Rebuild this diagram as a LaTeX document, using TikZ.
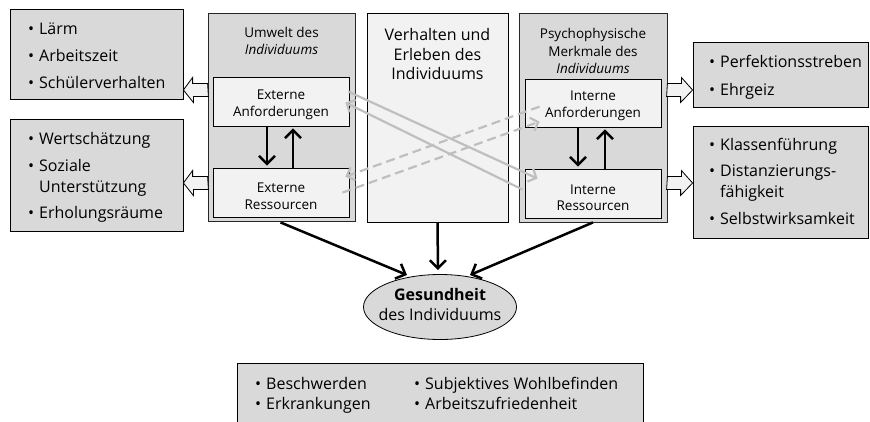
\documentclass[tikz,border=0pt]{standalone}
\usepackage{fontspec}
\setmainfont{Open Sans}
\usetikzlibrary{arrows.meta,calc,shapes.geometric}
\definecolor{boxgray}{HTML}{D9D9D9}
\definecolor{palegray}{HTML}{F2F2F2}
\definecolor{arrgray}{HTML}{BFBFBF}
\newcommand\bitem[4]{\node[sidetxt] (#1) at (#2,#3) {\llap{•\hspace{5pt}}#4};}
\newcommand\citem[4]{\node[sidetxt] (#1) at (#2,#3) {#4};}
\begin{document}
\begin{tikzpicture}[x=1pt,y=-1pt,
  frame/.style={draw=black!85, line width=0.8pt, fill=boxgray, inner sep=0pt},
  sidebox/.style={draw=black, line width=0.8pt, fill=boxgray, inner sep=0pt},
  inbox/.style={draw=black, line width=0.8pt, fill=palegray, inner sep=0pt},
  sidetxt/.style={font=\fontsize{16}{19}\selectfont, inner sep=0pt, anchor=base west},
  intxt/.style={font=\fontsize{13.5}{16.5}\selectfont, align=center, inner sep=0pt},
  hdrtxt/.style={font=\fontsize{13.5}{17}\selectfont, align=center, inner sep=0pt},
  blk/.style={draw=black, line width=0.8pt, fill=palegray, line join=miter},
  barr/.style={draw=black, line width=2.5pt, -{Straight Barb[length=8pt,width=16pt]}},
  garr/.style={draw=arrgray, line width=2.2pt, -{Straight Barb[length=6.5pt,width=14pt]}},
  gdash/.style={garr, dash pattern=on 9pt off 5pt}
]
\useasboundingbox (0,0) rectangle (870,421);

% side boxes
\node[sidebox, minimum width=173pt, minimum height=90pt] (L1) at (96.5,54) {};
\node[sidebox, minimum width=173pt, minimum height=112pt] (L2) at (96.5,175) {};
\node[sidebox, minimum width=175.5pt, minimum height=65pt] (R1) at (780.75,74.5) {};
\node[sidebox, minimum width=175.5pt, minimum height=112pt] (R2) at (780.75,182) {};

% main frames
\node[frame, minimum width=147pt, minimum height=208pt] (Umw) at (281.5,117) {};
\node[inbox, minimum width=141pt, minimum height=209pt] (Mid) at (437.5,117.5) {};
\node[frame, minimum width=148pt, minimum height=209pt] (Psy) at (593,117.5) {};

\node[inbox, minimum width=136pt, minimum height=49pt] (EA) at (281,101.5) {};
\node[inbox, minimum width=136pt, minimum height=49pt] (ER) at (281,192.5) {};
\node[inbox, minimum width=136pt, minimum height=48pt] (IA) at (593,103) {};
\node[inbox, minimum width=136pt, minimum height=49pt] (IR) at (593,193.5) {};

% header texts
\node[hdrtxt] (UmwT) at (281.5,41) {Umwelt des\\\textit{Individuums}};
\node[hdrtxt, font=\fontsize{13.5}{17.5}\selectfont] (PsyT) at (593,51) {Psychophysische\\Merkmale des\\\textit{Individuums}};
\node[hdrtxt, font=\fontsize{16}{19.3}\selectfont] (MidT) at (437.5,54) {Verhalten und\\Erleben des\\Individuums};

\node[intxt] (EAT) at (281,105) {Externe\\Anforderungen};
\node[intxt] (ERT) at (281,196) {Externe\\Ressourcen};
\node[intxt] (IAT) at (593,106) {Interne\\Anforderungen};
\node[intxt] (IRT) at (593,197.5) {Interne\\Ressourcen};

% side texts
\bitem{l1a}{39}{34.3}{Lärm}
\bitem{l1b}{39}{61.7}{Arbeitszeit}
\bitem{l1c}{39}{88.5}{Schülerverhalten}
\bitem{l2a}{39}{144}{Wertschätzung}
\bitem{l2b}{39}{171.7}{Soziale}
\citem{l2c}{39}{192}{Unterstützung}
\bitem{l2d}{39}{218.3}{Erholungsräume}
\bitem{r1a}{720}{67.3}{Perfektionsstreben}
\bitem{r1b}{720}{95}{Ehrgeiz}
\bitem{r2a}{720}{150}{Klassenführung}
\bitem{r2b}{720}{176.7}{Distanzierungs-}
\citem{r2c}{720}{197.3}{fähigkeit}
\bitem{r2d}{720}{224.3}{Selbstwirksamkeit}

% block arrows
\draw[blk] (Umw.west |- 0,90) ++(0,-6.5) -- ++(-15,0) -- ++(0,-6) -- (L1.east |- 0,90) -- ++(10,12.5) -- ++(0,-6) -- ++(15,0) -- cycle;
\draw[blk] (Umw.west |- 0,183) ++(0,-6.5) -- ++(-15,0) -- ++(0,-6) -- (L2.east |- 0,183) -- ++(10,12.5) -- ++(0,-6) -- ++(15,0) -- cycle;
\draw[blk] (Psy.east |- 0,90) ++(0,-6.5) -- ++(14,0) -- ++(0,-6) -- (R1.west |- 0,90) -- ++(-12,12.5) -- ++(0,-6) -- ++(-14,0) -- cycle;
\draw[blk] (Psy.east |- 0,183) ++(0,-6.5) -- ++(14,0) -- ++(0,-6) -- (R2.west |- 0,183) -- ++(-12,12.5) -- ++(0,-6) -- ++(-14,0) -- cycle;

% vertical arrows
\draw[barr] ($(EA.south)+(-14,0)$) -- ($(ER.north)+(-14,-2)$);
\draw[barr] ($(ER.north)+(12,0)$) -- ($(EA.south)+(12,2)$);
\draw[barr] ($(IA.south)+(-15,0)$) -- ($(IR.north)+(-15,-2)$);
\draw[barr] ($(IR.north)+(12,0)$) -- ($(IA.south)+(12,2)$);

% gray crossing arrows
\draw[garr] ($(EA.north east)+(-1,15)$) -- ($(IR.north west)+(13,10)$);
\draw[garr] ($(IR.north west)+(-2,21)$) -- ($(EA.north east)+(-4,26)$);
\draw[gdash] ($(IA.north west)+(15,28)$) -- ($(ER.north east)+(-4,9)$);
\draw[gdash] ($(ER.north east)+(-7,25)$) -- ($(IA.north west)+(15,43)$);

% health ellipse
\node[ellipse, draw=black, line width=0.8pt, fill=boxgray, minimum width=153pt, minimum height=65pt, inner sep=0pt] (ell) at (440,307) {};
\node[intxt, font=\fontsize{16}{20}\selectfont] (ellT) at (440,304) {\textbf{Gesundheit}\\des Individuums};

\draw[barr] ($(Umw.south)+(-1,1)$) -- ($(ell.center)+(-33,-32)$);
\draw[barr] (Mid.south) -- ($(ell.center)+(-2,-37)$);
\draw[barr] (Psy.south) -- ($(ell.center)+(30,-32)$);

% bottom box
\node[sidebox, minimum width=406pt, minimum height=77pt] (Bot) at (440,401.5) {};
\bitem{b1}{266}{389}{Beschwerden}
\bitem{b2}{266}{409}{Erkrankungen}
\bitem{b3}{425}{389}{Subjektives Wohlbefinden}
\bitem{b4}{425}{409}{Arbeitszufriedenheit}
\end{tikzpicture}
\end{document}
